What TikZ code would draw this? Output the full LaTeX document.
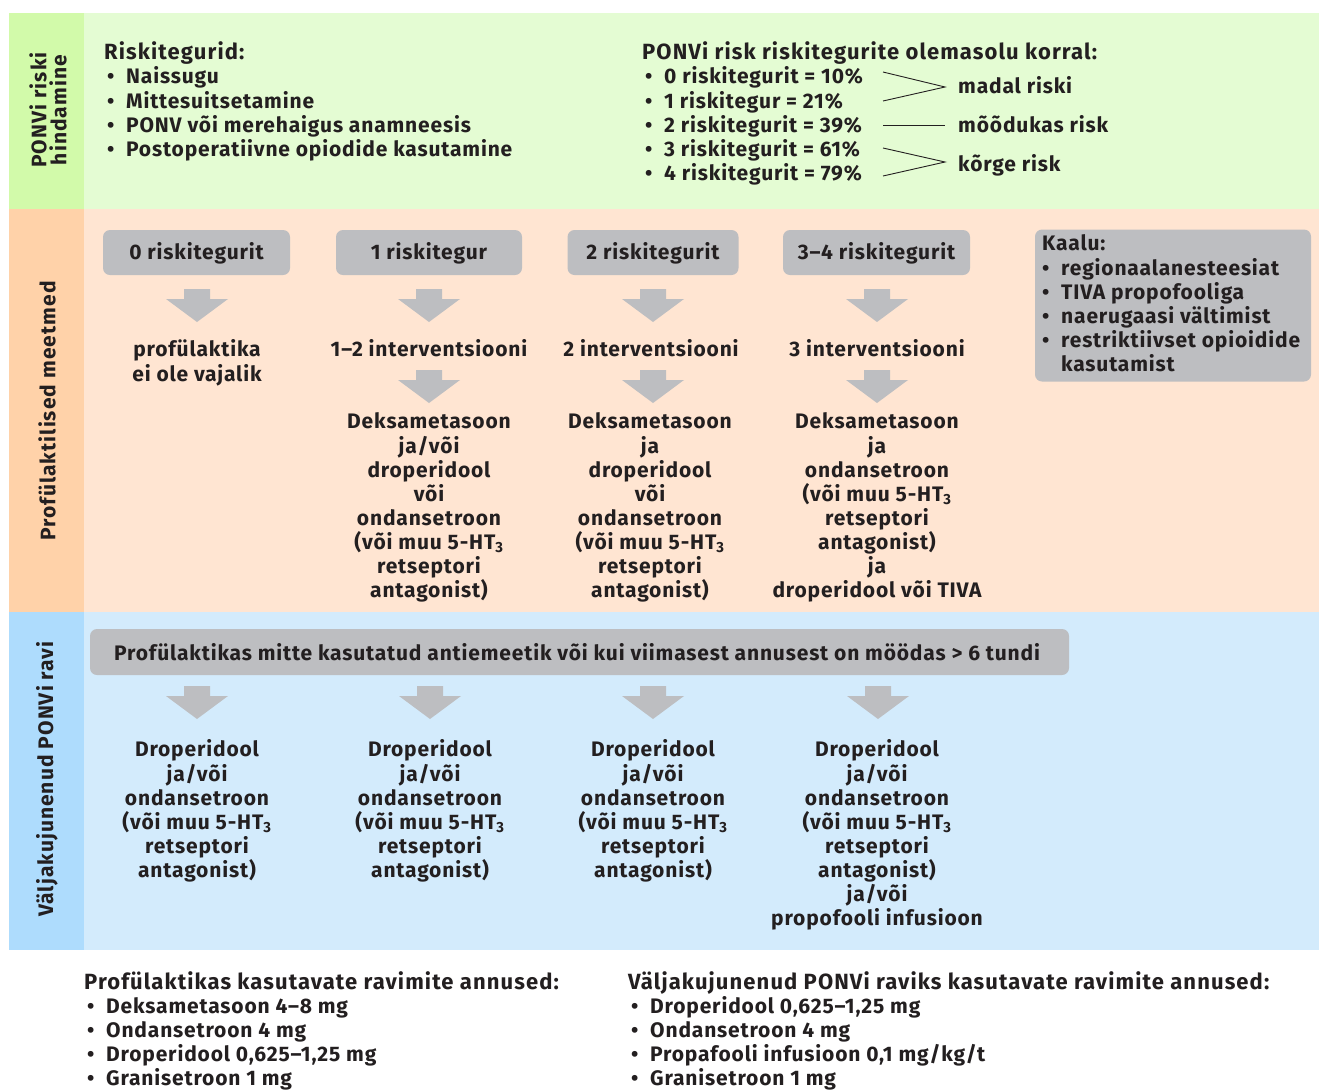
\documentclass[tikz,border=0pt]{standalone}
\usepackage{fontspec}
\setmainfont{Fira Sans}[LetterSpace=4]
\newfontfamily\hdfont{Fira Sans}[LetterSpace=5]
\definecolor{ink}{HTML}{231F20}
\definecolor{gside}{HTML}{D2FAAA}
\definecolor{gmain}{HTML}{E4FCD3}
\definecolor{oside}{HTML}{FFD2A9}
\definecolor{omain}{HTML}{FFE5D2}
\definecolor{bside}{HTML}{AEDCFD}
\definecolor{bmain}{HTML}{D3EBFC}
\definecolor{boxgray}{HTML}{BDBEC1}
\newcommand{\bul}{\makebox[19pt][l]{•}}
\newcommand{\bulind}{\hspace*{19pt}}
\newcommand{\htthree}{5-HT\textsubscript{3}}
\begin{document}
\begin{tikzpicture}[x=1pt,y=-1pt,
  txt/.style={inner sep=0pt, font=\bfseries\fontsize{21}{24}\selectfont, text=ink},
  ml/.style={txt, anchor=north, align=center},
  lst/.style={txt, anchor=north west, align=left},
  hd/.style={txt, anchor=base west},
  hdb/.style={txt, anchor=base west, font=\hdfont\bfseries\fontsize{22}{24}\selectfont},
  side/.style={txt, rotate=90, align=center, font=\hdfont\bfseries\fontsize{21}{20}\selectfont},
  gbox/.style={txt, fill=boxgray, rounded corners=7pt, text height=17pt, text depth=3pt},
  rline/.style={draw=ink, line width=0.9pt},
  barrow/.pic={\fill[boxgray] (-13,0) -- (13,0) -- (13,10) -- (31,10) -- (0,33) -- (-31,10) -- (-13,10) -- cycle;}
]
\useasboundingbox (0,0) rectangle (1319,1090);
\fill[white] (0,0) rectangle (1319,1090);
% bands
\fill[gside] (9,13) rectangle (84,209);
\fill[gmain] (84,13) rectangle (1319,209);
\fill[oside] (9,209) rectangle (84,612);
\fill[omain] (84,209) rectangle (1319,612);
\fill[bside] (9,612) rectangle (84,950);
\fill[bmain] (84,612) rectangle (1319,950);
% side labels
\node[side] (s1) at (48,110) {PONVi riski\\hindamine};
\node[side] (s2) at (47,411) {Profülaktilised meetmed};
\node[side] (s3) at (47,779) {Väljakujunenud PONVi ravi};
% top section
\node[hdb] (rh) at (104,59) {Riskitegurid:};
\node[lst] (rl) at (107,66) {\strut\bul Naissugu\\\bul Mittesuitsetamine\\\bul PONV või merehaigus anamneesis\\\bul Postoperatiivne opiodide kasutamine};
\node[hdb] (ph) at (642,59) {PONVi risk riskitegurite olemasolu korral:};
\node[lst] (pl) at (645,66) {\strut\bul 0 riskitegurit = 10\%\\\bul 1 riskitegur = 21\%\\\bul 2 riskitegurit = 39\%\\\bul 3 riskitegurit = 61\%\\\bul 4 riskitegurit = 79\%};
\node[hd] (lo) at (958,93) {madal riski};
\node[hd] (me) at (958,132) {mõõdukas risk};
\node[hd] (hi) at (958,171) {kõrge risk};
\coordinate (a0) at (883,72);
\coordinate (a1) at (883,101);
\coordinate (av) at (945,87);
\coordinate (b0) at (883,125);
\coordinate (b1) at (945,125);
\coordinate (c0) at (883,148);
\coordinate (c1) at (883,176);
\coordinate (cv) at (945,162);
\draw[rline] (a0) -- (av) -- (a1);
\draw[rline] (b0) -- (b1);
\draw[rline] (c0) -- (cv) -- (c1);
% middle section
\node[gbox, minimum width=187pt, minimum height=45pt] (k0) at (196.5,252.5) {0 riskitegurit};
\node[gbox, minimum width=186pt, minimum height=45pt] (k1) at (429,252.5) {1 riskitegur};
\node[gbox, minimum width=171pt, minimum height=45pt] (k2) at (653,252.5) {2 riskitegurit};
\node[gbox, minimum width=187pt, minimum height=45pt] (k3) at (876.5,252.5) {3–4 riskitegurit};
\node[txt, fill=boxgray, rounded corners=7pt, minimum width=276pt, minimum height=152pt] (kaalu) at (1173,305.5) {};
\node[lst] (kl) at (1042,233) {\strut Kaalu:\\\bul regionaalanesteesiat\\\bul TIVA propofooliga\\\bul naerugaasi vältimist\\\bul restriktiivset opioidide\\\bulind kasutamist};
\pic at (197,289) {barrow};
\pic at (429,289) {barrow};
\pic at (653,289) {barrow};
\pic at (877,289) {barrow};
\node[ml] (i0) at (197,339) {\strut profülaktika\\ei ole vajalik};
\node[ml] (i1) at (429,339) {\strut 1–2 interventsiooni};
\node[ml] (i2) at (651,339) {\strut 2 interventsiooni};
\node[ml] (i3) at (877,339) {\strut 3 interventsiooni};
\pic at (429,370) {barrow};
\pic at (653,370) {barrow};
\pic at (877,370) {barrow};
\node[ml] (d1) at (429,411) {\strut Deksametasoon\\ja/või\\droperidool\\või\\ondansetroon\\(või muu \htthree\\retseptori\\antagonist)};
\node[ml] (d2) at (650,411) {\strut Deksametasoon\\ja\\droperidool\\või\\ondansetroon\\(või muu \htthree\\retseptori\\antagonist)};
\node[ml] (d3) at (877,411) {\strut Deksametasoon\\ja\\ondansetroon\\(või muu \htthree\\retseptori\\antagonist)\\ja\\droperidool või TIVA};
% bottom section
\node[txt, fill=boxgray, rounded corners=7pt, minimum width=979pt, minimum height=46pt] (tb) at (579.5,652) {};
\node[hd] (tbt) at (114,660) {Profülaktikas mitte kasutatud antiemeetik või kui viimasest annusest on möödas > 6 tundi};
\pic at (197,686) {barrow};
\pic at (430,686) {barrow};
\pic at (653,686) {barrow};
\pic at (878,686) {barrow};
\node[ml] (t0) at (197,739) {\strut Droperidool\\ja/või\\ondansetroon\\(või muu \htthree\\retseptori\\antagonist)};
\node[ml] (t1) at (430,739) {\strut Droperidool\\ja/või\\ondansetroon\\(või muu \htthree\\retseptori\\antagonist)};
\node[ml] (t2) at (653,739) {\strut Droperidool\\ja/või\\ondansetroon\\(või muu \htthree\\retseptori\\antagonist)};
\node[ml] (t3) at (877,739) {\strut Droperidool\\ja/või\\ondansetroon\\(või muu \htthree\\retseptori\\antagonist)\\ja/või\\propofooli infusioon};
% doses
\node[hdb] (dh1) at (84,989) {Profülaktikas kasutavate ravimite annused:};
\node[lst] (dl1) at (87,996) {\strut\bul Deksametasoon 4–8 mg\\\bul Ondansetroon 4 mg\\\bul Droperidool 0,625–1,25 mg\\\bul Granisetroon 1 mg};
\node[hdb] (dh2) at (628,989) {Väljakujunenud PONVi raviks kasutavate ravimite annused:};
\node[lst] (dl2) at (631,996) {\strut\bul Droperidool 0,625–1,25 mg\\\bul Ondansetroon 4 mg\\\bul Propafooli infusioon 0,1 mg/kg/t\\\bul Granisetroon 1 mg};
\end{tikzpicture}
\end{document}
